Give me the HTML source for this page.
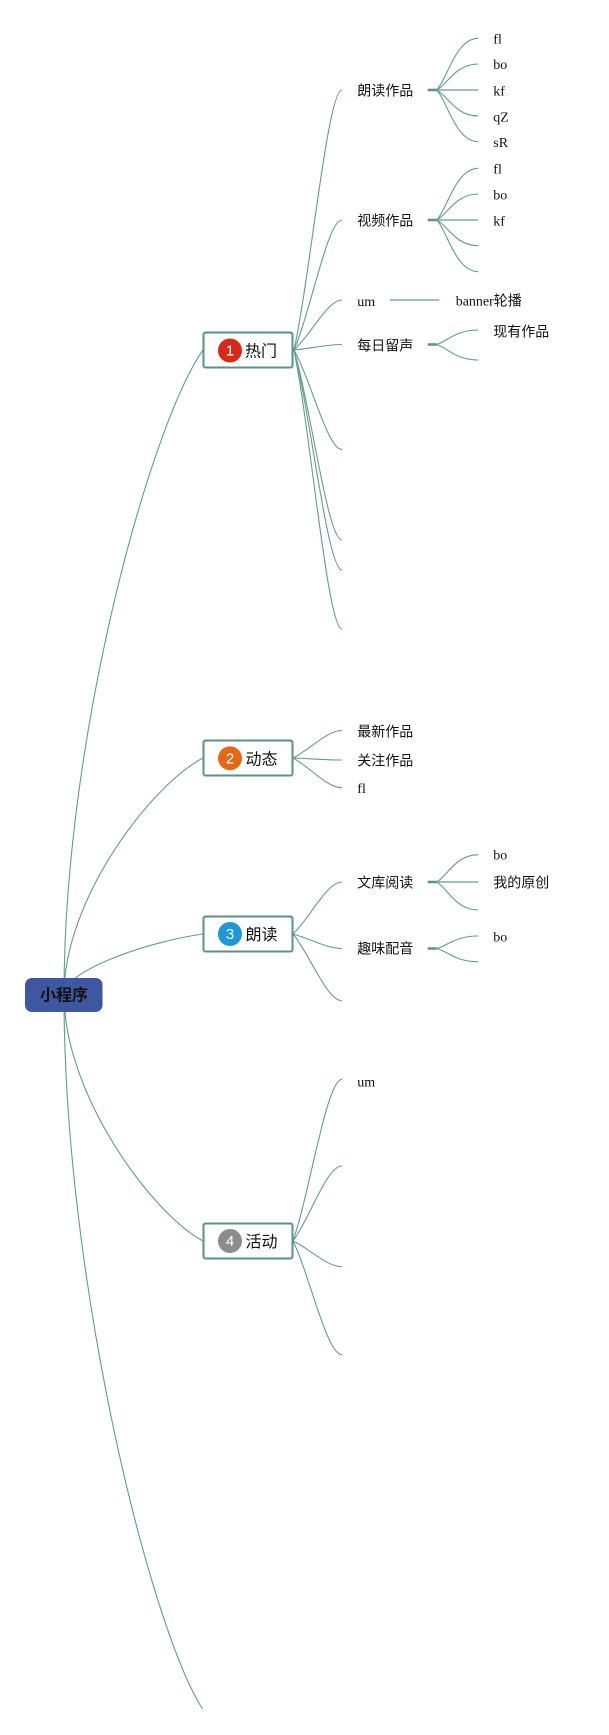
<!DOCTYPE html>
<html>
<head>
<meta charset="utf-8">
<style>
  html, body { margin: 0; padding: 0; background: #ffffff; }
  body { width: 609px; height: 1735px; overflow: hidden; }
  svg { display: block; }
  .ln { fill: none; stroke: #659c8c; stroke-width: 1.1; }
  .hub { fill: none; stroke: #5f9787; stroke-width: 2.6; }
  .st { font-family: "Liberation Serif", "Noto Sans CJK SC", serif; font-size: 14px; fill: #111; }
  .mt { font-family: "Liberation Sans", "Noto Sans CJK SC", sans-serif; font-size: 16px; fill: #111; }
  .num { font-family: "Liberation Sans", sans-serif; font-size: 15px; fill: #fff; }
</style>
</head>
<body>
<svg width="609" height="1735" viewBox="0 0 609 1735" xmlns="http://www.w3.org/2000/svg">
  <!-- Root curves -->
  <path class="ln" d="M64 994.5 C64 736.7, 150.2 425.4, 203 350"/>
  <path class="ln" d="M64 994.5 C64 899.9, 150.2 785.7, 203 758"/>
  <path class="ln" d="M64 994.5 C64 970.3, 150.2 941.1, 203 934"/>
  <path class="ln" d="M64 994.5 C64 1093.1, 150.2 1212.2, 203 1241"/>
  <path class="ln" d="M64 994.5 C64 1280.3, 149.6 1625.4, 202.5 1709"/>

  <!-- 热门 children -->
  <path class="ln" d="M294 350 C310.8 272, 327.6 90, 342 90"/>
  <path class="ln" d="M294 350 C310.8 311, 327.6 220, 342 220"/>
  <path class="ln" d="M294 350 C310.8 335, 327.6 300, 342 300"/>
  <path class="ln" d="M294 350 C310.8 348.4, 327.6 344.5, 342 344.5"/>
  <path class="ln" d="M294 350 C310.8 380, 327.6 449.5, 342 449.5"/>
  <path class="ln" d="M294 350 C310.8 407, 327.6 540, 342 540"/>
  <path class="ln" d="M294 350 C310.8 416, 327.6 570, 342 570"/>
  <path class="ln" d="M294 350 C310.8 433.7, 327.6 629, 342 629"/>

  <!-- 动态 children -->
  <path class="ln" d="M293 758 C309.8 749.8, 326.6 730.5, 342 730.5"/>
  <path class="ln" d="M293 758 C309.8 758.6, 326.6 760, 342 760"/>
  <path class="ln" d="M293 758 C309.8 766.9, 326.6 787.7, 342 787.7"/>

  <!-- 朗读 children -->
  <path class="ln" d="M293 934 C309.8 918.4, 326.6 882, 342 882"/>
  <path class="ln" d="M293 934 C309.8 938.4, 326.6 948.5, 342 948.5"/>
  <path class="ln" d="M293 934 C309.8 954, 326.6 1000.7, 342 1000.7"/>

  <!-- 活动 children -->
  <path class="ln" d="M293 1241 C309.8 1192.5, 326.6 1079.3, 342 1079.3"/>
  <path class="ln" d="M293 1241 C309.8 1218.5, 326.6 1166, 342 1166"/>
  <path class="ln" d="M293 1241 C309.8 1248.7, 326.6 1266.7, 342 1266.7"/>
  <path class="ln" d="M293 1241 C309.8 1275.1, 326.6 1354.7, 342 1354.7"/>

  <!-- 朗读作品 hub -->
  <line class="hub" x1="427.7" y1="90" x2="436.7" y2="90"/>
  <path class="ln" d="M436.7 90 C447.1 79.7, 455.4 38.3, 478.3 38.3"/>
  <path class="ln" d="M436.7 90 C447.1 84.8, 455.4 64, 478.3 64"/>
  <path class="ln" d="M436.7 90 L478.3 90" style="stroke-width:1.5;stroke:#7fae9f"/>
  <path class="ln" d="M436.7 90 C447.1 95.2, 455.4 116, 478.3 116"/>
  <path class="ln" d="M436.7 90 C447.1 100.3, 455.4 141.7, 478.3 141.7"/>

  <!-- 视频作品 hub -->
  <line class="hub" x1="427.7" y1="220" x2="436.7" y2="220"/>
  <path class="ln" d="M436.7 220 C447.1 209.7, 455.4 168.3, 478.3 168.3"/>
  <path class="ln" d="M436.7 220 C447.1 214.8, 455.4 194, 478.3 194"/>
  <path class="ln" d="M436.7 220 L478.3 220" style="stroke-width:1.5;stroke:#7fae9f"/>
  <path class="ln" d="M436.7 220 C447.1 225.1, 455.4 245.7, 478.3 245.7"/>
  <path class="ln" d="M436.7 220 C447.1 230.3, 455.4 271.7, 478.3 271.7"/>

  <!-- um -> banner -->
  <line x1="390" y1="300" x2="439.3" y2="300" stroke="#8fb9ac" stroke-width="1.8"/>

  <!-- 每日留声 hub -->
  <line class="hub" x1="427.7" y1="344.5" x2="436.7" y2="344.5"/>
  <path class="ln" d="M436.7 344.5 C447.1 341.6, 455.4 330, 478.3 330"/>
  <path class="ln" d="M436.7 344.5 C447.1 347.6, 455.4 360, 478.3 360"/>

  <!-- 文库阅读 hub -->
  <line class="hub" x1="427.7" y1="882" x2="436.7" y2="882"/>
  <path class="ln" d="M436.7 882 C447.1 876.5, 455.4 854.7, 478.3 854.7"/>
  <path class="ln" d="M436.7 882 L478.3 882" style="stroke-width:1.5;stroke:#7fae9f"/>
  <path class="ln" d="M436.7 882 C447.1 887.6, 455.4 910, 478.3 910"/>

  <!-- 趣味配音 hub -->
  <line class="hub" x1="427.7" y1="948.5" x2="436.7" y2="948.5"/>
  <path class="ln" d="M436.7 948.5 C447.1 946, 455.4 936, 478.3 936"/>
  <path class="ln" d="M436.7 948.5 C447.1 951.1, 455.4 961.7, 478.3 961.7"/>

  <!-- Root node -->
  <rect x="25" y="978" width="77.5" height="34" rx="7" ry="7" fill="#3f57a0"/>
  <text x="64" y="996" text-anchor="middle" dominant-baseline="central" font-family="'Liberation Sans','Noto Sans CJK SC',sans-serif" font-size="16" font-weight="bold" fill="#111">小程序</text>

  <!-- Main topic: 热门 -->
  <rect x="203.5" y="332.5" width="89" height="35" rx="2" fill="#fff" stroke="#5a9383" stroke-width="2"/>
  <circle cx="230" cy="350.5" r="12" fill="#d42a17"/>
  <text class="num" x="230" y="351" text-anchor="middle" dominant-baseline="central">1</text>
  <text class="mt" x="245" y="352" dominant-baseline="central">热门</text>

  <!-- 动态 -->
  <rect x="203.5" y="740.5" width="89" height="35" rx="2" fill="#fff" stroke="#5a9383" stroke-width="2"/>
  <circle cx="230" cy="758.3" r="12" fill="#e0691a"/>
  <text class="num" x="230" y="758.8" text-anchor="middle" dominant-baseline="central">2</text>
  <text class="mt" x="245.5" y="759.8" dominant-baseline="central">动态</text>

  <!-- 朗读 -->
  <rect x="203.5" y="916.5" width="89" height="35" rx="2" fill="#fff" stroke="#5a9383" stroke-width="2"/>
  <circle cx="230" cy="934" r="12" fill="#1e98d8"/>
  <text class="num" x="230" y="934.5" text-anchor="middle" dominant-baseline="central">3</text>
  <text class="mt" x="245.5" y="935.5" dominant-baseline="central">朗读</text>

  <!-- 活动 -->
  <rect x="203.5" y="1223.5" width="89" height="35" rx="2" fill="#fff" stroke="#5a9383" stroke-width="2"/>
  <circle cx="230" cy="1241" r="12" fill="#8c8c8c"/>
  <text class="num" x="230" y="1241.5" text-anchor="middle" dominant-baseline="central">4</text>
  <text class="mt" x="245.5" y="1242.5" dominant-baseline="central">活动</text>

  <!-- Sub topics -->
  <text class="st" x="357.3" y="92" dominant-baseline="central">朗读作品</text>
  <text class="st" x="493.3" y="40" dominant-baseline="central">fl</text>
  <text class="st" x="493.3" y="65.5" dominant-baseline="central">bo</text>
  <text class="st" x="493.3" y="92" dominant-baseline="central">kf</text>
  <text class="st" x="493.3" y="118" dominant-baseline="central">qZ</text>
  <text class="st" x="493.3" y="143.5" dominant-baseline="central">sR</text>

  <text class="st" x="357.3" y="222" dominant-baseline="central">视频作品</text>
  <text class="st" x="493.3" y="170" dominant-baseline="central">fl</text>
  <text class="st" x="493.3" y="196" dominant-baseline="central">bo</text>
  <text class="st" x="493.3" y="222" dominant-baseline="central">kf</text>

  <text class="st" x="357.3" y="302.5" dominant-baseline="central">um</text>
  <text class="st" x="455.7" y="302" dominant-baseline="central">banner轮播</text>

  <text class="st" x="357.3" y="347" dominant-baseline="central">每日留声</text>
  <text class="st" x="493.3" y="333" dominant-baseline="central">现有作品</text>

  <text class="st" x="357.3" y="733" dominant-baseline="central">最新作品</text>
  <text class="st" x="357.3" y="762" dominant-baseline="central">关注作品</text>
  <text class="st" x="357.3" y="789.5" dominant-baseline="central">fl</text>

  <text class="st" x="357.3" y="884" dominant-baseline="central">文库阅读</text>
  <text class="st" x="493.3" y="856" dominant-baseline="central">bo</text>
  <text class="st" x="493.3" y="884" dominant-baseline="central">我的原创</text>

  <text class="st" x="357.3" y="950" dominant-baseline="central">趣味配音</text>
  <text class="st" x="493.3" y="938" dominant-baseline="central">bo</text>

  <text class="st" x="357.3" y="1083" dominant-baseline="central">um</text>
</svg>
</body>
</html>
